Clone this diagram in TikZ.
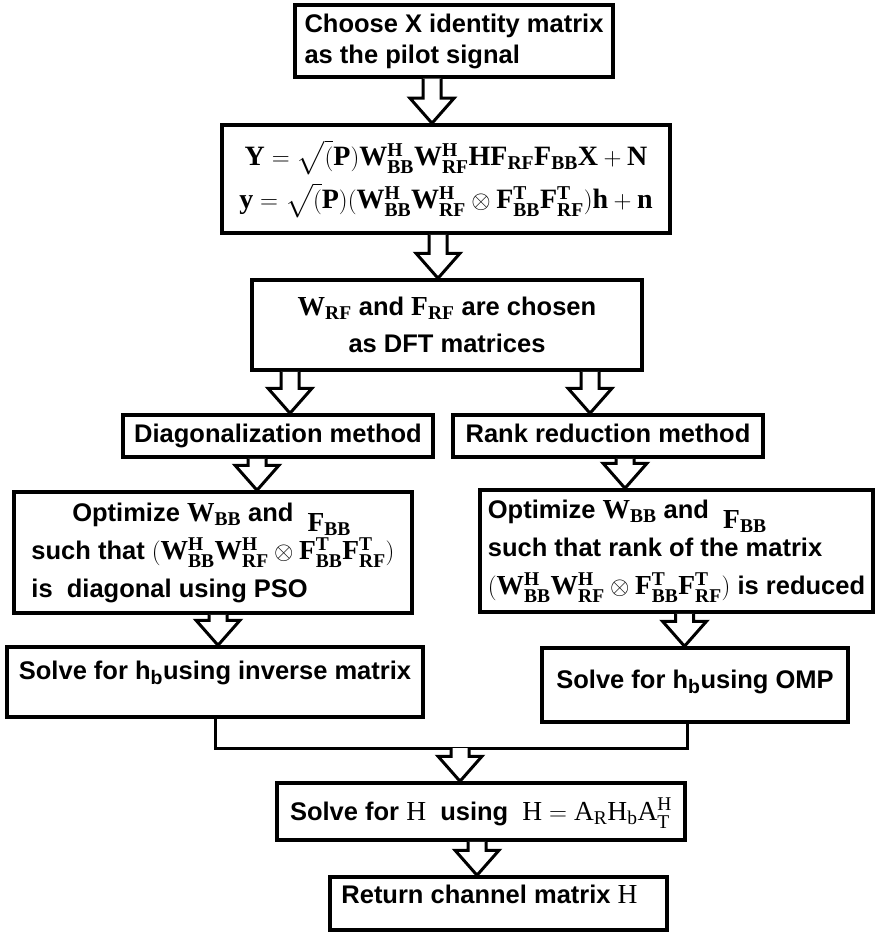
\documentclass[tikz,border=0pt]{standalone}
\usepackage{amsmath}
\usepackage{amssymb}
\usepackage{fontspec}
\setmainfont{Liberation Sans}
\setmathrm{Liberation Serif}
\DeclareMathSizes{25.5}{27.5}{19.5}{14}
\usepackage{tikz}
\usetikzlibrary{calc}

% hollow block arrow: #1 start point, #2 node whose border it points at
\newcommand{\blockarrow}[2]{%
  \draw[hollow] let \p1=(#1), \p2=(#2) in
    (\x1-9pt,\y1) -- (\x1-9pt,\y2+25pt) -- (\x1-22pt,\y2+25pt) -- (\x1,\y2)
    -- (\x1+22pt,\y2+25pt) -- (\x1+9pt,\y2+25pt) -- (\x1+9pt,\y1);}

\begin{document}
\begin{tikzpicture}[
    x=1pt, y=1pt,
    box/.style={rectangle, draw=black, line width=3.5pt, align=center, inner sep=3pt, font=\fontsize{25.5}{31}\selectfont\bfseries},
    hollow/.style={draw=black, line width=3pt, fill=white},
    link/.style={draw=black, line width=3pt}
]
    \useasboundingbox (0,0) rectangle (876,-933);

    \node [box, minimum width=318pt, minimum height=72pt, align=left] (pilot) at (454,-41) {Choose X identity matrix\\as the pilot signal};
    \node [box, minimum width=448pt, minimum height=108pt, font=\fontsize{28}{43}\selectfont] (model) at (446,-179)
        {$\mathbf{Y = \sqrt{(}P)W^H_{BB}W^H_{RF}HF_{RF}F_{BB}X + N}$\\
         $\mathbf{y = \sqrt{(}P)(W^H_{BB}W^H_{RF} \otimes F^T_{BB}F^T_{RF})h + n}$};
    \node [box, minimum width=390pt, minimum height=90pt, font=\fontsize{25.5}{37}\selectfont\bfseries] (dft) at (447,-325)
        {$\mathbf{W_{RF}}$ and $\mathbf{F_{RF}}$ are chosen\\as DFT matrices};

    \node [box, minimum width=310pt, minimum height=42pt, text height=18pt, text depth=6pt] (diag) at (278,-436) {Diagonalization method};
    \node [box, minimum width=310pt, minimum height=42pt, text height=18pt, text depth=6pt] (rank) at (608,-436) {Rank reduction method};

    \node [box, minimum width=398pt, minimum height=121pt, align=left, inner sep=1pt, font=\fontsize{25.5}{38}\selectfont\bfseries] (optdiag) at (213,-552.5)
        {\hspace*{1.6em}Optimize $\mathbf{W_{BB}}$ and\ \ \raisebox{-10pt}{$\mathbf{F_{BB}}$}\\
         such that $\mathbf{(W^H_{BB}W^H_{RF} \otimes F^T_{BB}F^T_{RF})}$\\
         is\ \ diagonal using PSO};
    \node [box, minimum width=393pt, minimum height=122pt, align=left, inner sep=1pt, font=\fontsize{25.5}{38}\selectfont\bfseries] (optrank) at (676.5,-551)
        {Optimize $\mathbf{W_{BB}}$ and\ \ \raisebox{-10pt}{$\mathbf{F_{BB}}$}\\
         such that rank of the matrix\\
         $\mathbf{(W^H_{BB}W^H_{RF} \otimes F^T_{BB}F^T_{RF})}$ is reduced};

    \node [box, minimum width=416pt, minimum height=70pt, text height=18pt, text depth=24pt] (solveinv) at (215,-682) {Solve for h$_{\text{b}}$using inverse matrix};
    \node [box, minimum width=306pt, minimum height=74pt, text height=18pt, text depth=12pt] (solveomp) at (695,-685) {Solve for h$_{\text{b}}$using OMP};

    \node [box, minimum width=408pt, minimum height=57pt, text height=20pt, text depth=3pt] (solveh) at (481,-811.5) {Solve for $\mathrm{H}$\ \ using\ \ $\mathrm{H = A_RH_bA_T^H}$};
    \node [box, minimum width=337pt, minimum height=53pt, text height=18pt, text depth=18pt] (result) at (498.5,-903.5) {Return channel matrix\ $\mathrm{H}$\hspace*{18pt}};

    % block arrows down the chart
    \blockarrow{[xshift=-22pt]pilot.south}{model.north}
    \blockarrow{[xshift=-8pt]model.south}{dft.north}
    \blockarrow{[xshift=-157pt]dft.south}{diag.north}
    \blockarrow{[xshift=143pt]dft.south}{rank.north}
    \blockarrow{[xshift=-21pt]diag.south}{optdiag.north}
    \blockarrow{[xshift=17pt]rank.south}{optrank.north}
    \blockarrow{[xshift=5pt]optdiag.south}{solveinv.north}
    \blockarrow{[xshift=8pt]optrank.south}{solveomp.north}

    % merge of the two branches
    \coordinate (join) at (460,-748);
    \draw [link] (solveinv.south) |- (join) -| ([xshift=-8pt]solveomp.south);
    \blockarrow{join}{solveh.north}
    \blockarrow{[xshift=-4pt]solveh.south}{result.north}
\end{tikzpicture}
\end{document}
